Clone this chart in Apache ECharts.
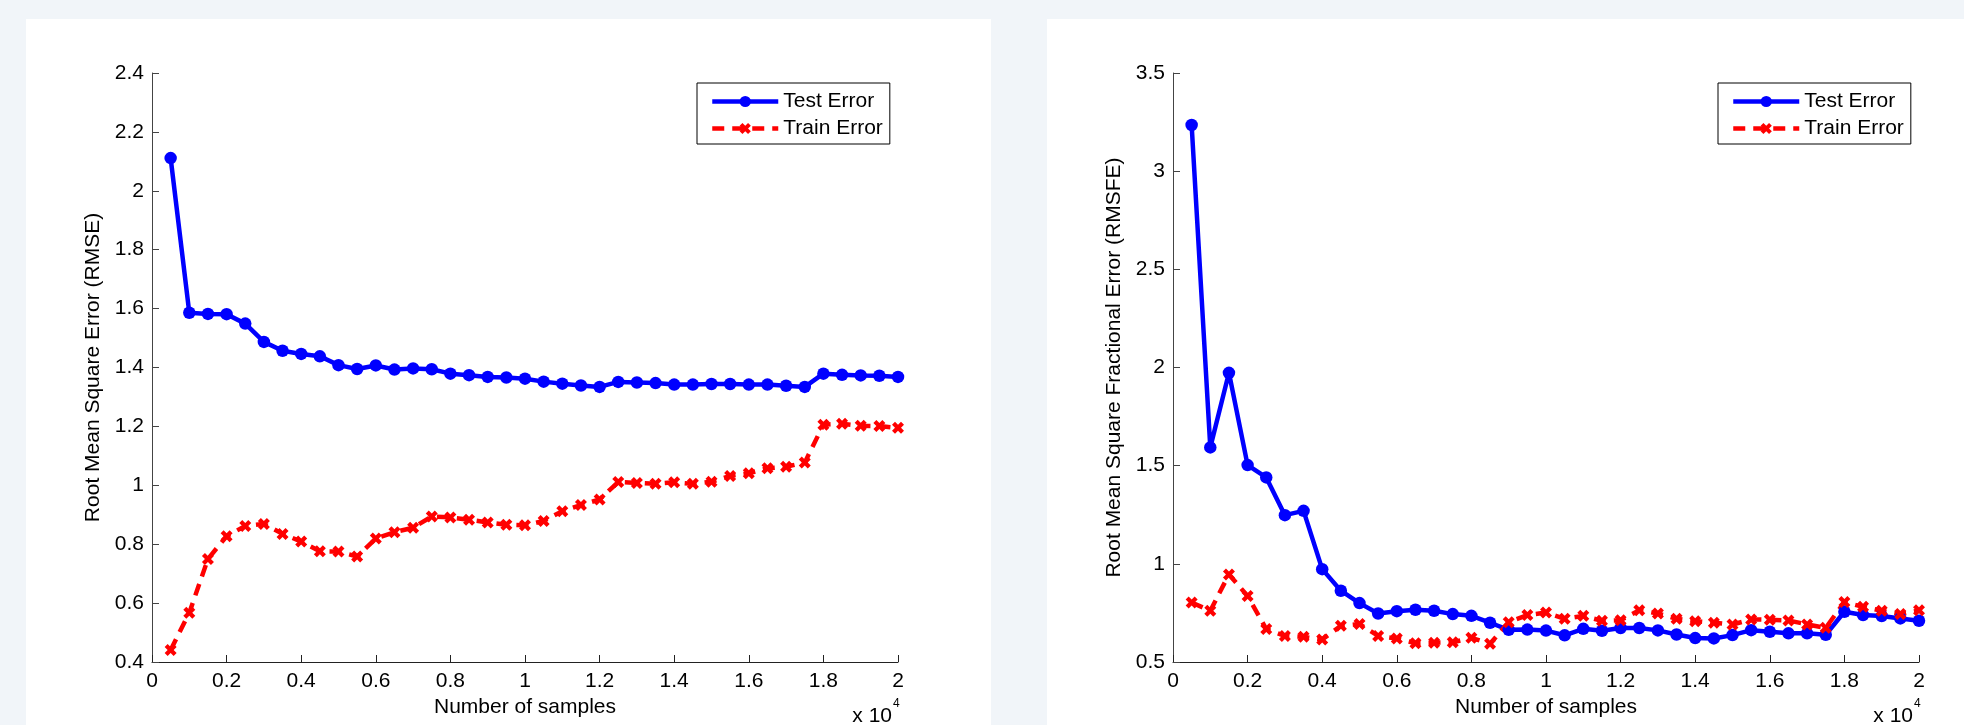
<!DOCTYPE html>
<html>
<head>
<meta charset="utf-8">
<title>RMSE vs number of samples</title>
<script src="https://cdn.jsdelivr.net/npm/echarts@6/dist/echarts.min.js"></script>
<style>
    html, body {
        margin: 0;
        padding: 0;
        width: 1964px;
        height: 725px;
        overflow: hidden;
        background: #f1f5f9;
    }
    .card {
        position: absolute;
        top: 19px;
        height: 706px;
        background: #fff;
    }
    #rmse { left: 26px; width: 965px; }
    #rmsfe { left: 1047px; width: 940px; }
</style>
</head>
<body>
<div class="card" id="rmse"></div>
<div class="card" id="rmsfe"></div>
<script>
// number of training samples
const samples = [500, 1000, 1500, 2000, 2500, 3000, 3500, 4000, 4500, 5000,
    5500, 6000, 6500, 7000, 7500, 8000, 8500, 9000, 9500, 10000,
    10500, 11000, 11500, 12000, 12500, 13000, 13500, 14000, 14500, 15000,
    15500, 16000, 16500, 17000, 17500, 18000, 18500, 19000, 19500, 20000]

// left chart: RMSE
const rmseTest = [2.111, 1.586, 1.582, 1.581, 1.549, 1.487, 1.457, 1.446, 1.438, 1.408,
    1.395, 1.407, 1.393, 1.397, 1.394, 1.379, 1.374, 1.368, 1.366, 1.362,
    1.352, 1.345, 1.339, 1.334, 1.351, 1.349, 1.347, 1.342, 1.342, 1.344,
    1.344, 1.342, 1.342, 1.338, 1.334, 1.379, 1.375, 1.373, 1.372, 1.368]
const rmseTrain = [0.441, 0.567, 0.750, 0.827, 0.862, 0.869, 0.835, 0.809, 0.776, 0.775,
    0.758, 0.819, 0.841, 0.856, 0.894, 0.891, 0.883, 0.874, 0.866, 0.864,
    0.879, 0.912, 0.933, 0.952, 1.011, 1.008, 1.005, 1.010, 1.005, 1.012,
    1.032, 1.041, 1.058, 1.063, 1.077, 1.206, 1.209, 1.202, 1.201, 1.195]

// right chart: RMSFE
const rmsfeTest = [3.235, 1.593, 1.973, 1.503, 1.440, 1.248, 1.270, 0.973, 0.863, 0.800,
    0.747, 0.759, 0.766, 0.761, 0.744, 0.735, 0.700, 0.664, 0.665, 0.660,
    0.636, 0.669, 0.659, 0.673, 0.673, 0.661, 0.640, 0.622, 0.620, 0.637,
    0.662, 0.654, 0.646, 0.646, 0.639, 0.756, 0.739, 0.734, 0.722, 0.710]
const rmsfeTrain = [0.803, 0.761, 0.946, 0.836, 0.668, 0.633, 0.628, 0.615, 0.684, 0.693,
    0.633, 0.620, 0.596, 0.598, 0.600, 0.623, 0.593, 0.703, 0.739, 0.752,
    0.720, 0.735, 0.710, 0.713, 0.763, 0.747, 0.720, 0.708, 0.700, 0.691,
    0.717, 0.715, 0.712, 0.691, 0.674, 0.805, 0.781, 0.761, 0.744, 0.763]

const seriesNames = ['Test Error', 'Train Error']

const FONT = '"Liberation Sans", Arial, Helvetica, sans-serif'
// MATLAB style 'x' marker (bold)
const CROSS = 'path://M0,3L3,0L6,3L9,0L12,3L9,6L12,9L9,12L6,9L3,12L0,9L3,6Z'

function pairs(ys) {
    return samples.map((x, i) => [x, ys[i]])
}

function renderChart(id, yName, yMin, yMax, yStep, test, train) {
    var myChart = echarts.init(document.getElementById(id))

    var option = {
        animation: false,
        textStyle: { fontFamily: FONT },
        grid: {
            left: 126,
            top: 54,
            width: 746,
            height: 589
        },
        legend: {
            data: seriesNames,
            left: 671,
            top: 64,
            orient: 'vertical',
            backgroundColor: '#fff',
            borderColor: '#000',
            borderWidth: 1,
            borderRadius: 0,
            padding: [8, 7, 5, 13],
            itemWidth: 66,
            itemHeight: 14,
            itemGap: 6,
            lineStyle: { width: 4.5 },
            textStyle: { fontSize: 21, color: '#000', lineHeight: 21, fontFamily: FONT }
        },
        xAxis: {
            type: 'value',
            min: 0,
            max: 20000,
            interval: 2000,
            name: 'Number of samples',
            nameLocation: 'middle',
            nameGap: 33,
            nameTextStyle: { fontSize: 21, color: '#000' },
            splitLine: { show: false },
            axisLine: { lineStyle: { color: '#222', width: 1 } },
            axisTick: { inside: true, length: 7, lineStyle: { color: '#222' } },
            axisLabel: {
                fontSize: 21,
                color: '#000',
                margin: 9,
                formatter: v => String(v / 10000)
            }
        },
        yAxis: {
            type: 'value',
            min: yMin,
            max: yMax,
            interval: yStep,
            name: yName,
            nameLocation: 'middle',
            nameGap: 48,
            nameTextStyle: { fontSize: 21, color: '#000' },
            splitLine: { show: false },
            axisLine: { show: true, lineStyle: { color: '#444', width: 1 } },
            axisTick: { show: true, inside: true, length: 7, lineStyle: { color: '#444' } },
            axisLabel: { fontSize: 21, color: '#000', margin: 8 }
        },
        graphic: [
            {
                type: 'text',
                x: 866,
                y: 708,
                style: { text: 'x 10', fill: '#000', font: '21px ' + FONT, textAlign: 'right', textVerticalAlign: 'bottom' }
            },
            {
                type: 'text',
                x: 867,
                y: 679,
                style: { text: '4', fill: '#000', font: '12px ' + FONT, textAlign: 'left', textVerticalAlign: 'top' }
            }
        ],
        series: [
            {
                name: seriesNames[0],
                type: 'line',
                data: pairs(test),
                symbol: 'circle',
                symbolSize: 12.5,
                itemStyle: { color: '#0000ff' },
                lineStyle: { color: '#0000ff', width: 4.5 }
            },
            {
                name: seriesNames[1],
                type: 'line',
                data: pairs(train),
                symbol: CROSS,
                symbolSize: 12,
                itemStyle: { color: '#ff0000' },
                lineStyle: { color: '#ff0000', width: 4.5, type: [12, 8] }
            }
        ]
    }

    myChart.setOption(option)
}

renderChart('rmse', 'Root Mean Square Error (RMSE)', 0.4, 2.4, 0.2, rmseTest, rmseTrain)
renderChart('rmsfe', 'Root Mean Square Fractional Error (RMSFE)', 0.5, 3.5, 0.5, rmsfeTest, rmsfeTrain)
</script>
</body>
</html>
